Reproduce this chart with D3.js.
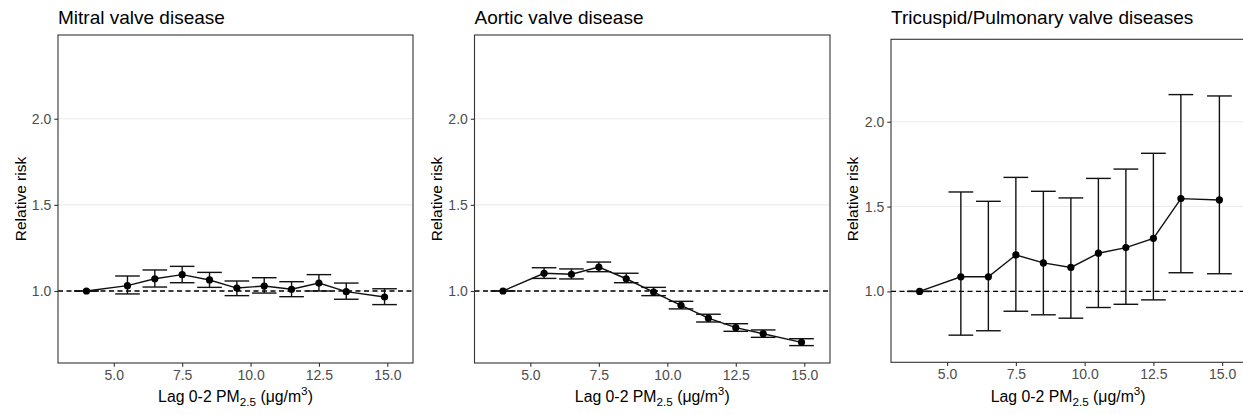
<!DOCTYPE html>
<html>
<head>
<meta charset="utf-8">
<script src="https://d3js.org/d3.v7.min.js"></script>
<style>
  body { margin: 0; background: white; }
  svg { font-family: "Liberation Sans", Arial, sans-serif; }
</style>
</head>
<body>
<svg id="chart" width="1243" height="415"></svg>
<script>
// exposure levels (lag 0-2 PM2.5, ug/m3)
var pm = [4.0, 5.5, 6.5, 7.5, 8.5, 9.5, 10.5, 11.5, 12.5, 13.5, 14.9];

var titles = ["Mitral valve disease", "Aortic valve disease", "Tricuspid/Pulmonary valve diseases"];

var mitralRR  = [1.0, 1.031, 1.071, 1.095, 1.064, 1.017, 1.029, 1.010, 1.046, 0.996, 0.965];
var mitralLo  = [1.0, 0.983, 1.023, 1.048, 1.021, 0.973, 0.988, 0.967, 1.000, 0.952, 0.921];
var mitralHi  = [1.0, 1.087, 1.122, 1.143, 1.108, 1.058, 1.077, 1.054, 1.095, 1.046, 1.013];

var aorticRR  = [1.0, 1.103, 1.097, 1.139, 1.071, 0.994, 0.917, 0.842, 0.787, 0.752, 0.702];
var aorticLo  = [1.0, 1.073, 1.070, 1.112, 1.048, 0.973, 0.896, 0.820, 0.766, 0.731, 0.683];
var aorticHi  = [1.0, 1.135, 1.128, 1.168, 1.103, 1.021, 0.940, 0.865, 0.810, 0.774, 0.723];

var tricRR    = [1.0, 1.086, 1.086, 1.215, 1.168, 1.141, 1.225, 1.258, 1.313, 1.547, 1.539];
var tricLo    = [1.0, 0.742, 0.768, 0.883, 0.862, 0.842, 0.905, 0.924, 0.950, 1.110, 1.104];
var tricHi    = [1.0, 1.586, 1.531, 1.672, 1.590, 1.551, 1.666, 1.721, 1.814, 2.160, 2.152];

var xTicks = [5, 7.5, 10, 12.5, 15];
var yTicks = [1.0, 1.5, 2.0];

var series = [
  {rr: mitralRR, lo: mitralLo, hi: mitralHi},
  {rr: aorticRR, lo: aorticLo, hi: aorticHi},
  {rr: tricRR, lo: tricLo, hi: tricHi}
];

// panel boxes in px
var boxes = [
  {l: 58, r: 413, t: 35, b: 363, yt: 20.5},
  {l: 474.5, r: 830, t: 35, b: 363, yt: 436.5},
  {l: 891, r: 1248, t: 39.3, b: 362.3, yt: 852}
];

var svg = d3.select("#chart");

boxes.forEach(function(bx, i) {
  var s = series[i];
  var x = d3.scaleLinear().domain([2.96, 15.94]).range([bx.l, bx.r]);
  var y = d3.scaleLinear().domain([0.582, 2.486]).range([bx.b, bx.t]);
  var g = svg.append("g");

  // grid
  g.selectAll(".grid").data(yTicks).enter().append("line")
    .attr("x1", bx.l).attr("x2", bx.r)
    .attr("y1", d => y(d)).attr("y2", d => y(d))
    .attr("stroke", "#ebebeb").attr("stroke-width", 1.1);

  // reference line
  g.append("line")
    .attr("x1", bx.l).attr("x2", bx.r)
    .attr("y1", y(1)).attr("y2", y(1))
    .attr("stroke", "#000").attr("stroke-width", 1.4)
    .attr("stroke-dasharray", "5,3.5");

  var idx = d3.range(pm.length);
  var hw = 0.45;

  // error bars
  var eb = g.selectAll(".eb").data(idx).enter().append("g");
  eb.append("line")
    .attr("x1", d => x(pm[d])).attr("x2", d => x(pm[d]))
    .attr("y1", d => y(s.lo[d])).attr("y2", d => y(s.hi[d]));
  eb.append("line")
    .attr("x1", d => x(pm[d] - hw)).attr("x2", d => x(pm[d] + hw))
    .attr("y1", d => y(s.hi[d])).attr("y2", d => y(s.hi[d]));
  eb.append("line")
    .attr("x1", d => x(pm[d] - hw)).attr("x2", d => x(pm[d] + hw))
    .attr("y1", d => y(s.lo[d])).attr("y2", d => y(s.lo[d]));
  eb.selectAll("line").attr("stroke", "#111").attr("stroke-width", 1.4);

  // line
  g.append("path")
    .datum(idx)
    .attr("fill", "none").attr("stroke", "#111").attr("stroke-width", 1.4)
    .attr("d", d3.line().x(d => x(pm[d])).y(d => y(s.rr[d])));

  g.selectAll(".pt").data(idx).enter().append("circle")
    .attr("cx", d => x(pm[d])).attr("cy", d => y(s.rr[d]))
    .attr("r", 3.6).attr("fill", "#000");

  // border
  g.append("rect")
    .attr("x", bx.l).attr("y", bx.t)
    .attr("width", bx.r - bx.l).attr("height", bx.b - bx.t)
    .attr("fill", "none").attr("stroke", "#333").attr("stroke-width", 1.1);

  // axes
  var xa = g.append("g").attr("transform", "translate(0," + bx.b + ")")
    .call(d3.axisBottom(x).tickValues(xTicks).tickFormat(d3.format(".1f")).tickSize(3.7).tickPadding(3));
  var ya = g.append("g").attr("transform", "translate(" + bx.l + ",0)")
    .call(d3.axisLeft(y).tickValues(yTicks).tickFormat(d3.format(".1f")).tickSize(3.7).tickPadding(3));
  [xa, ya].forEach(function(a) {
    a.select(".domain").remove();
    a.selectAll(".tick line").attr("stroke", "#333").attr("stroke-width", 1.1);
    a.selectAll(".tick text").attr("fill", "#4d4d4d").style("font-size", "14px")
      .style("font-family", "'Liberation Sans', Arial, sans-serif");
  });

  // title
  svg.append("text")
    .attr("x", bx.l).attr("y", 23.5)
    .style("font-size", "19px").attr("fill", "#000")
    .text(titles[i]);

  // y title
  svg.append("text")
    .attr("transform", "translate(" + (bx.yt + 5.5) + "," + ((35 + 363) / 2) + ") rotate(-90)")
    .attr("text-anchor", "middle")
    .style("font-size", "15.5px").attr("fill", "#000")
    .text("Relative risk");

  // x title with sub/superscripts, centred by measured width
  var cx = (bx.l + (i === 2 ? 890.7 + 354.7 : bx.r)) / 2;
  var xt = svg.append("text")
    .attr("x", cx).attr("y", 402)
    .style("font-size", "15.8px").attr("fill", "#000");
  xt.append("tspan").text("Lag 0-2 PM");
  xt.append("tspan").attr("dy", 3.5).style("font-size", "11.7px").text("2.5");
  xt.append("tspan").attr("dy", -3.5).text(" (μg/m");
  xt.append("tspan").attr("dy", -7).style("font-size", "11.7px").text("3");
  xt.append("tspan").attr("dy", 7).text(")");
  var w = xt.node().getComputedTextLength();
  xt.attr("x", cx - w / 2);
});
</script>
</body>
</html>
